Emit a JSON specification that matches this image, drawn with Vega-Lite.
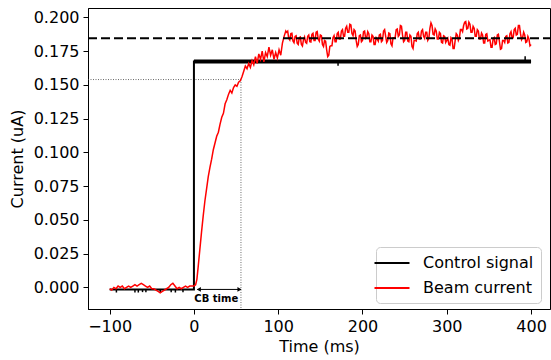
{
  "$schema": "https://vega.github.io/schema/vega-lite/v6.json",
  "width": 462,
  "height": 301,
  "autosize": "none",
  "padding": {"left": 88, "top": 8, "right": 1, "bottom": 51},
  "background": "white",
  "config": {
    "view": {"stroke": "black", "strokeWidth": 1},
    "font": "DejaVu Sans",
    "axis": {
      "grid": false,
      "domainColor": "black",
      "domainWidth": 1,
      "tickColor": "black",
      "tickWidth": 1,
      "tickSize": 5,
      "labelFont": "DejaVu Sans",
      "labelFontSize": 16,
      "labelColor": "black",
      "labelOverlap": false,
      "titleFont": "DejaVu Sans",
      "titleFontSize": 16,
      "titleFontWeight": "normal",
      "titleColor": "black",
      "labelPadding": 4
    },
    "legend": {
      "labelFont": "DejaVu Sans",
      "labelFontSize": 16,
      "labelColor": "black"
    }
  },
  "datasets": {
    "beam": [
      {"x": -100, "y": -0.001}, {"x": -97.5, "y": -0.002}, {"x": -95, "y": 0.0}, {"x": -92.5, "y": -0.001},
      {"x": -90, "y": 0.001}, {"x": -87.5, "y": 0.0}, {"x": -85, "y": 0.001}, {"x": -82.5, "y": -0.001},
      {"x": -80, "y": 0.0}, {"x": -77.5, "y": 0.001}, {"x": -75, "y": 0.0}, {"x": -72.5, "y": 0.001},
      {"x": -70, "y": 0.002}, {"x": -67.5, "y": 0.001}, {"x": -65, "y": 0.002}, {"x": -62.5, "y": 0.003},
      {"x": -60, "y": 0.002}, {"x": -57.5, "y": 0.001}, {"x": -55, "y": 0.0}, {"x": -52.5, "y": 0.001},
      {"x": -50, "y": -0.001}, {"x": -47.5, "y": -0.001}, {"x": -45, "y": -0.002}, {"x": -42.5, "y": -0.003},
      {"x": -40, "y": -0.004}, {"x": -37.5, "y": -0.003}, {"x": -35, "y": -0.002}, {"x": -32.5, "y": -0.001},
      {"x": -30, "y": 0.0}, {"x": -27.5, "y": 0.002}, {"x": -25, "y": 0.003}, {"x": -22.5, "y": 0.001},
      {"x": -20, "y": -0.001}, {"x": -17.5, "y": 0.0}, {"x": -15, "y": -0.001}, {"x": -12.5, "y": 0.0},
      {"x": -10, "y": 0.001}, {"x": -7.5, "y": 0.0}, {"x": -5, "y": 0.001}, {"x": -2.5, "y": 0.001},
      {"x": 0, "y": 0.001}, {"x": 2, "y": 0.002}, {"x": 3.5, "y": 0.006}, {"x": 5, "y": 0.015},
      {"x": 7, "y": 0.028}, {"x": 9, "y": 0.041}, {"x": 11, "y": 0.053}, {"x": 13, "y": 0.064},
      {"x": 15, "y": 0.073}, {"x": 17, "y": 0.082}, {"x": 19, "y": 0.089}, {"x": 21, "y": 0.095},
      {"x": 23, "y": 0.102}, {"x": 25, "y": 0.107}, {"x": 27, "y": 0.112}, {"x": 29, "y": 0.115},
      {"x": 31, "y": 0.121}, {"x": 33, "y": 0.126}, {"x": 35, "y": 0.129}, {"x": 37, "y": 0.136},
      {"x": 39, "y": 0.139}, {"x": 41, "y": 0.143}, {"x": 43, "y": 0.146}, {"x": 45, "y": 0.144},
      {"x": 47, "y": 0.148}, {"x": 49, "y": 0.15}, {"x": 51, "y": 0.149}, {"x": 53, "y": 0.152},
      {"x": 55, "y": 0.153}, {"x": 57, "y": 0.156}, {"x": 59, "y": 0.16}, {"x": 61, "y": 0.164},
      {"x": 63, "y": 0.162}, {"x": 65, "y": 0.166}, {"x": 67, "y": 0.163}, {"x": 69, "y": 0.168},
      {"x": 71, "y": 0.165}, {"x": 73, "y": 0.171}, {"x": 75, "y": 0.166}, {"x": 77, "y": 0.173},
      {"x": 79, "y": 0.169}, {"x": 81, "y": 0.175}, {"x": 83, "y": 0.167}, {"x": 85, "y": 0.174},
      {"x": 87, "y": 0.171}, {"x": 89, "y": 0.178}, {"x": 91, "y": 0.172}, {"x": 93, "y": 0.176},
      {"x": 95, "y": 0.169}, {"x": 97, "y": 0.174}, {"x": 99, "y": 0.17}, {"x": 101, "y": 0.176},
      {"x": 103, "y": 0.172}, {"x": 105, "y": 0.181}, {"x": 107, "y": 0.186}, {"x": 109, "y": 0.19},
      {"x": 110, "y": 0.189}, {"x": 111.25, "y": 0.1898}, {"x": 112.5, "y": 0.1845}, {"x": 113.75, "y": 0.1833},
      {"x": 115, "y": 0.188}, {"x": 116.25, "y": 0.1883}, {"x": 117.5, "y": 0.1825}, {"x": 118.75, "y": 0.1813},
      {"x": 120, "y": 0.186}, {"x": 121.25, "y": 0.1865}, {"x": 122.5, "y": 0.181}, {"x": 123.75, "y": 0.18},
      {"x": 125, "y": 0.185}, {"x": 126.25, "y": 0.1855}, {"x": 127.5, "y": 0.18}, {"x": 128.75, "y": 0.1788},
      {"x": 130, "y": 0.1835}, {"x": 131.25, "y": 0.1855}, {"x": 132.5, "y": 0.1815}, {"x": 133.75, "y": 0.1808},
      {"x": 135, "y": 0.186}, {"x": 136.25, "y": 0.187}, {"x": 137.5, "y": 0.182}, {"x": 138.75, "y": 0.1818},
      {"x": 140, "y": 0.1875}, {"x": 141.25, "y": 0.1883}, {"x": 142.5, "y": 0.183}, {"x": 143.75, "y": 0.183},
      {"x": 145, "y": 0.189}, {"x": 146.25, "y": 0.1895}, {"x": 147.5, "y": 0.184}, {"x": 148.75, "y": 0.1825},
      {"x": 150, "y": 0.187}, {"x": 151.25, "y": 0.1865}, {"x": 152.5, "y": 0.18}, {"x": 153.75, "y": 0.1785},
      {"x": 155, "y": 0.183}, {"x": 156.25, "y": 0.1825}, {"x": 157.5, "y": 0.176}, {"x": 158.75, "y": 0.171},
      {"x": 160, "y": 0.172}, {"x": 161.25, "y": 0.1785}, {"x": 162.5, "y": 0.179}, {"x": 163.75, "y": 0.179},
      {"x": 165, "y": 0.185}, {"x": 166.25, "y": 0.1865}, {"x": 167.5, "y": 0.182}, {"x": 168.75, "y": 0.182},
      {"x": 170, "y": 0.188}, {"x": 171.25, "y": 0.189}, {"x": 172.5, "y": 0.184}, {"x": 173.75, "y": 0.184},
      {"x": 175, "y": 0.19}, {"x": 176.25, "y": 0.191}, {"x": 177.5, "y": 0.186}, {"x": 178.75, "y": 0.186},
      {"x": 180, "y": 0.192}, {"x": 181.25, "y": 0.1935}, {"x": 182.5, "y": 0.189}, {"x": 183.75, "y": 0.189},
      {"x": 185, "y": 0.195}, {"x": 186.25, "y": 0.1945}, {"x": 187.5, "y": 0.188}, {"x": 188.75, "y": 0.1865},
      {"x": 190, "y": 0.191}, {"x": 191.25, "y": 0.19}, {"x": 192.5, "y": 0.183}, {"x": 193.75, "y": 0.1785},
      {"x": 195, "y": 0.18}, {"x": 196.25, "y": 0.1865}, {"x": 197.5, "y": 0.187}, {"x": 198.75, "y": 0.182},
      {"x": 200, "y": 0.183}, {"x": 201.25, "y": 0.1895}, {"x": 202.5, "y": 0.19}, {"x": 203.75, "y": 0.1845},
      {"x": 205, "y": 0.185}, {"x": 206.25, "y": 0.1895}, {"x": 207.5, "y": 0.188}, {"x": 208.75, "y": 0.182},
      {"x": 210, "y": 0.182}, {"x": 211.25, "y": 0.187}, {"x": 212.5, "y": 0.186}, {"x": 213.75, "y": 0.18},
      {"x": 215, "y": 0.18}, {"x": 216.25, "y": 0.185}, {"x": 217.5, "y": 0.184}, {"x": 218.75, "y": 0.1825},
      {"x": 220, "y": 0.187}, {"x": 221.25, "y": 0.1875}, {"x": 222.5, "y": 0.182}, {"x": 223.75, "y": 0.183},
      {"x": 225, "y": 0.19}, {"x": 226.25, "y": 0.191}, {"x": 227.5, "y": 0.186}, {"x": 228.75, "y": 0.1815},
      {"x": 230, "y": 0.183}, {"x": 231.25, "y": 0.1885}, {"x": 232.5, "y": 0.188}, {"x": 233.75, "y": 0.1805},
      {"x": 235, "y": 0.179}, {"x": 236.25, "y": 0.185}, {"x": 237.5, "y": 0.185}, {"x": 238.75, "y": 0.185},
      {"x": 240, "y": 0.191}, {"x": 241.25, "y": 0.1915}, {"x": 242.5, "y": 0.186}, {"x": 243.75, "y": 0.187},
      {"x": 245, "y": 0.194}, {"x": 246.25, "y": 0.1935}, {"x": 247.5, "y": 0.187}, {"x": 248.75, "y": 0.182},
      {"x": 250, "y": 0.183}, {"x": 251.25, "y": 0.189}, {"x": 252.5, "y": 0.189}, {"x": 253.75, "y": 0.1825},
      {"x": 255, "y": 0.182}, {"x": 256.25, "y": 0.187}, {"x": 257.5, "y": 0.186}, {"x": 258.75, "y": 0.1785},
      {"x": 260, "y": 0.177}, {"x": 261.25, "y": 0.183}, {"x": 262.5, "y": 0.183}, {"x": 263.75, "y": 0.1825},
      {"x": 265, "y": 0.188}, {"x": 266.25, "y": 0.189}, {"x": 267.5, "y": 0.184}, {"x": 268.75, "y": 0.184},
      {"x": 270, "y": 0.19}, {"x": 271.25, "y": 0.191}, {"x": 272.5, "y": 0.186}, {"x": 273.75, "y": 0.1845},
      {"x": 275, "y": 0.189}, {"x": 276.25, "y": 0.189}, {"x": 277.5, "y": 0.183}, {"x": 278.75, "y": 0.1845},
      {"x": 280, "y": 0.192}, {"x": 281.25, "y": 0.196}, {"x": 282.5, "y": 0.194}, {"x": 283.75, "y": 0.1875},
      {"x": 285, "y": 0.187}, {"x": 286.25, "y": 0.1915}, {"x": 287.5, "y": 0.19}, {"x": 288.75, "y": 0.184},
      {"x": 290, "y": 0.184}, {"x": 291.25, "y": 0.189}, {"x": 292.5, "y": 0.188}, {"x": 293.75, "y": 0.1815},
      {"x": 295, "y": 0.181}, {"x": 296.25, "y": 0.1865}, {"x": 297.5, "y": 0.186}, {"x": 298.75, "y": 0.1815},
      {"x": 300, "y": 0.183}, {"x": 301.25, "y": 0.1845}, {"x": 302.5, "y": 0.18}, {"x": 303.75, "y": 0.1795},
      {"x": 305, "y": 0.185}, {"x": 306.25, "y": 0.184}, {"x": 307.5, "y": 0.177}, {"x": 308.75, "y": 0.177},
      {"x": 310, "y": 0.183}, {"x": 311.25, "y": 0.188}, {"x": 312.5, "y": 0.187}, {"x": 313.75, "y": 0.183},
      {"x": 315, "y": 0.185}, {"x": 316.25, "y": 0.191}, {"x": 317.5, "y": 0.191}, {"x": 318.75, "y": 0.1895},
      {"x": 320, "y": 0.194}, {"x": 321.25, "y": 0.1965}, {"x": 322.5, "y": 0.197}, {"x": 323.75, "y": 0.1915},
      {"x": 325, "y": 0.192}, {"x": 326.25, "y": 0.1965}, {"x": 327.5, "y": 0.195}, {"x": 328.75, "y": 0.189},
      {"x": 330, "y": 0.189}, {"x": 331.25, "y": 0.1935}, {"x": 332.5, "y": 0.192}, {"x": 333.75, "y": 0.186},
      {"x": 335, "y": 0.186}, {"x": 336.25, "y": 0.191}, {"x": 337.5, "y": 0.19}, {"x": 338.75, "y": 0.184},
      {"x": 340, "y": 0.184}, {"x": 341.25, "y": 0.1885}, {"x": 342.5, "y": 0.187}, {"x": 343.75, "y": 0.181},
      {"x": 345, "y": 0.181}, {"x": 346.25, "y": 0.1875}, {"x": 347.5, "y": 0.188}, {"x": 348.75, "y": 0.1825},
      {"x": 350, "y": 0.183}, {"x": 351.25, "y": 0.1835}, {"x": 352.5, "y": 0.178}, {"x": 353.75, "y": 0.178},
      {"x": 355, "y": 0.184}, {"x": 356.25, "y": 0.185}, {"x": 357.5, "y": 0.18}, {"x": 358.75, "y": 0.1805},
      {"x": 360, "y": 0.187}, {"x": 361.25, "y": 0.1875}, {"x": 362.5, "y": 0.182}, {"x": 363.75, "y": 0.1765},
      {"x": 365, "y": 0.177}, {"x": 366.25, "y": 0.183}, {"x": 367.5, "y": 0.183}, {"x": 368.75, "y": 0.1815},
      {"x": 370, "y": 0.186}, {"x": 371.25, "y": 0.1865}, {"x": 372.5, "y": 0.181}, {"x": 373.75, "y": 0.1815},
      {"x": 375, "y": 0.188}, {"x": 376.25, "y": 0.1895}, {"x": 377.5, "y": 0.185}, {"x": 378.75, "y": 0.185},
      {"x": 380, "y": 0.191}, {"x": 381.25, "y": 0.192}, {"x": 382.5, "y": 0.187}, {"x": 383.75, "y": 0.1875},
      {"x": 385, "y": 0.194}, {"x": 386.25, "y": 0.194}, {"x": 387.5, "y": 0.188}, {"x": 388.75, "y": 0.1835},
      {"x": 390, "y": 0.185}, {"x": 391.25, "y": 0.189}, {"x": 392.5, "y": 0.187}, {"x": 393.75, "y": 0.1815},
      {"x": 395, "y": 0.182}, {"x": 396.25, "y": 0.186}, {"x": 397.5, "y": 0.184}, {"x": 398.75, "y": 0.179},
      {"x": 400, "y": 0.18}
    ],
    "ctrl": [
      {"x": -100, "y": -0.0015}, {"x": -0.01, "y": -0.0015}, {"x": 0, "y": 0.1673}, {"x": 400, "y": 0.1673}
    ],
    "ctrlTop": [
      {"x": 0, "y": 0.1673}, {"x": 400, "y": 0.1673}
    ],
    "spikes": [
      {"x": -92, "y": -0.0038, "y2": -0.0015}, {"x": -70, "y": -0.0038, "y2": -0.0015},
      {"x": -66, "y": -0.0038, "y2": -0.0015}, {"x": -61, "y": -0.0035, "y2": -0.0015},
      {"x": -57, "y": -0.0035, "y2": -0.0015}, {"x": -40, "y": -0.0038, "y2": -0.0015},
      {"x": -27, "y": -0.0035, "y2": -0.0015}, {"x": -22, "y": -0.0038, "y2": -0.0015},
      {"x": -13, "y": -0.0035, "y2": -0.0015}, {"x": 171, "y": 0.1643, "y2": 0.1673},
      {"x": 393, "y": 0.1673, "y2": 0.1713}
    ],
    "guides": [
      {"x": -125.7, "x2": 55.8, "y": 0.154, "y2": 0.154},
      {"x": 55.8, "x2": 55.8, "y": 0.154, "y2": -0.016}
    ],
    "level": [{"x": -125.7, "x2": 422.5, "y": 0.1846}],
    "arrow": [{"x": 4, "x2": 55.8, "y": -0.0015}],
    "heads": [
      {"x": 5.8, "y": -0.0015, "end": "start"},
      {"x": 54.0, "y": -0.0015, "end": "end"}
    ],
    "label": [{"x": 26.5, "y": -0.0085, "text": "CB time"}]
  },
  "encoding": {
    "x": {"field": "x", "type": "quantitative",
          "scale": {"domain": [-125.7, 422.5], "nice": false, "zero": false},
          "axis": {"values": [-100, 0, 100, 200, 300, 400], "format": "d", "title": "Time (ms)", "titlePadding": 4, "labelOverlap": false}},
    "y": {"field": "y", "type": "quantitative",
          "scale": {"domain": [-0.016, 0.207], "nice": false, "zero": false},
          "axis": {"values": [0, 0.025, 0.05, 0.075, 0.1, 0.125, 0.15, 0.175, 0.2], "format": ".3f", "title": "Current (uA)", "titlePadding": 8, "labelOverlap": false}}
  },
  "layer": [
    {
      "data": {"name": "guides"},
      "mark": {"type": "rule", "color": "#444444", "strokeWidth": 0.8, "strokeDash": [1, 1.5]},
      "encoding": {
        "x2": {"field": "x2"},
        "y2": {"field": "y2"}
      }
    },
    {
      "data": {"name": "ctrl"},
      "mark": {"type": "line", "strokeWidth": 2, "interpolate": "linear"},
      "encoding": {
        "color": {"datum": "Control signal", "type": "nominal",
          "scale": {"domain": ["Control signal", "Beam current"], "range": ["#000000", "#ff0000"]},
          "legend": {"title": null, "orient": "none", "legendX": 288, "legendY": 239,
            "symbolType": "M-2.1875,0H2.1875", "symbolSize": 256, "symbolStrokeWidth": 2,
            "strokeColor": "#cccccc", "fillColor": "white", "cornerRadius": 4, "padding": 7,
            "labelOffset": 22, "rowPadding": 8}}
      }
    },
    {
      "data": {"name": "ctrlTop"},
      "mark": {"type": "line", "strokeWidth": 4, "color": "black"},
      "encoding": {}
    },
    {
      "data": {"name": "spikes"},
      "mark": {"type": "rule", "strokeWidth": 1.5, "color": "black"},
      "encoding": {
        "y2": {"field": "y2"}
      }
    },
    {
      "data": {"name": "beam"},
      "mark": {"type": "line", "strokeWidth": 1.5},
      "encoding": {
        "color": {"datum": "Beam current", "type": "nominal"}
      }
    },
    {
      "data": {"name": "level"},
      "mark": {"type": "rule", "color": "black", "strokeWidth": 2, "strokeDash": [9, 4]},
      "encoding": {
        "x2": {"field": "x2"}
      }
    },
    {
      "data": {"name": "arrow"},
      "mark": {"type": "rule", "color": "black", "strokeWidth": 1},
      "encoding": {
        "x2": {"field": "x2"}
      }
    },
    {
      "data": {"name": "heads"},
      "mark": {"type": "point", "filled": true, "color": "black", "size": 22, "opacity": 1},
      "encoding": {
        "shape": {"field": "end", "type": "nominal",
          "scale": {"domain": ["start", "end"], "range": ["triangle-left", "triangle-right"]}, "legend": null}
      }
    },
    {
      "data": {"name": "label"},
      "mark": {"type": "text", "font": "DejaVu Sans", "fontWeight": "bold", "fontSize": 10, "color": "black", "baseline": "middle", "align": "center"},
      "encoding": {
        "text": {"field": "text"}
      }
    }
  ]
}
